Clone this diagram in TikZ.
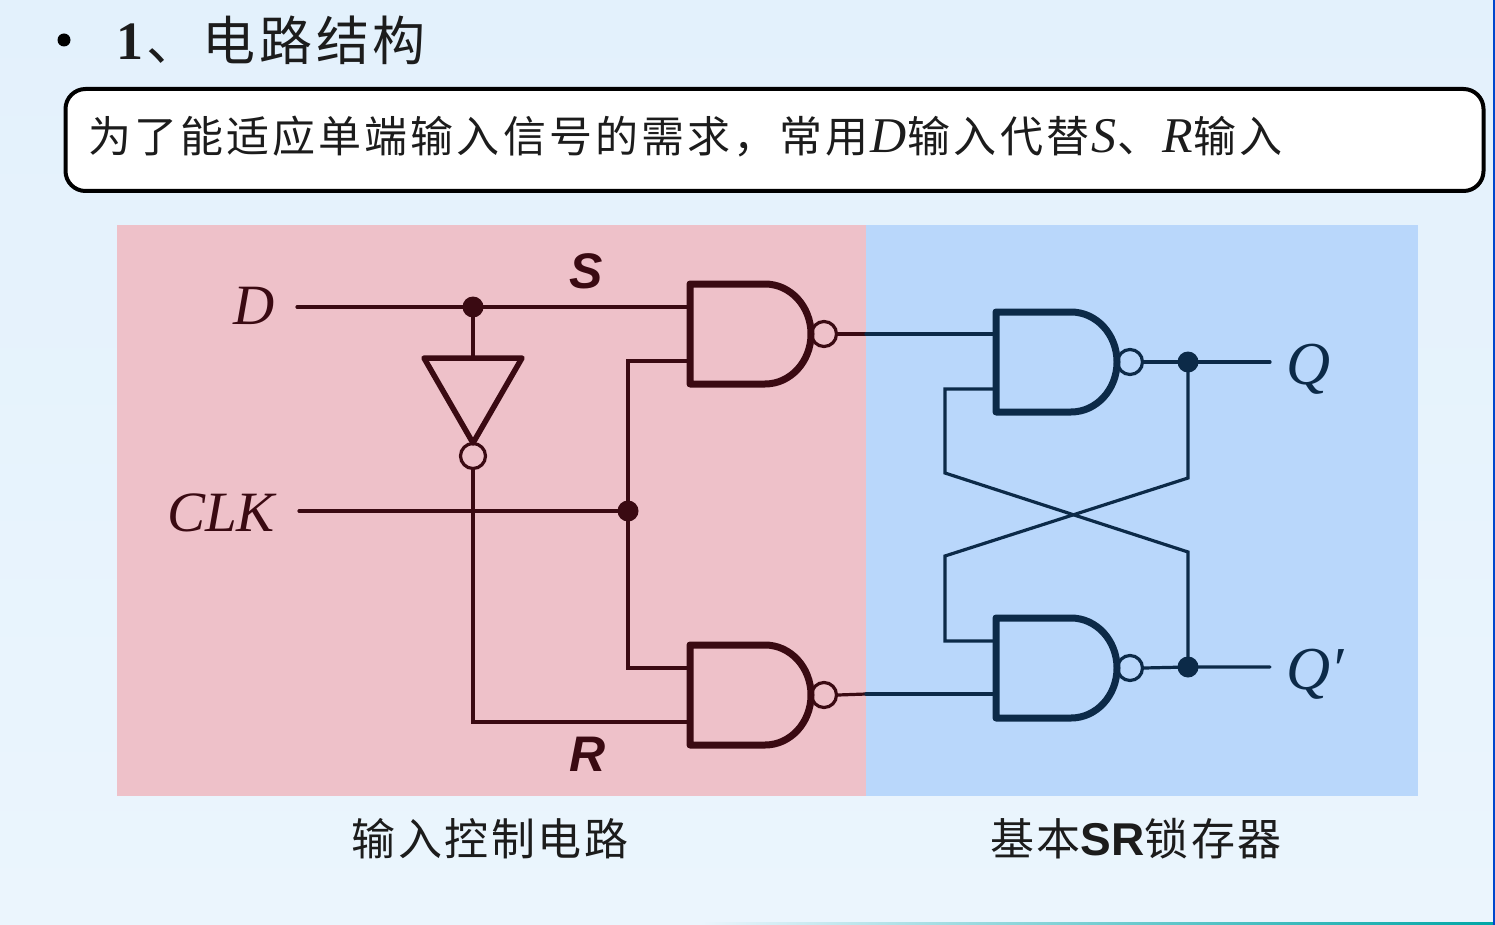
\documentclass[tikz,border=0pt]{standalone}
\usepackage{fontspec}
\setmainfont{Liberation Serif}
\newfontfamily\cjk{Noto Sans CJK SC}
\newfontfamily\cjkbody[LetterSpace=7.2]{Noto Sans CJK SC}
\newfontfamily\cjktitle[LetterSpace=7]{Noto Sans CJK SC}
\newfontfamily\cjkcap[LetterSpace=6]{Noto Sans CJK SC}
\newfontfamily\hei{Liberation Sans}
\newcommand{\latinit}[1]{{\fontsize{50}{50}\selectfont\rmfamily\itshape\kern2pt #1\kern1pt}}
\definecolor{bgtop}{HTML}{E3F1FC}
\definecolor{bgbot}{HTML}{EBF5FD}
\definecolor{redpane}{HTML}{EEC1C9}
\definecolor{bluepane}{HTML}{B9D7FB}
\definecolor{maroon}{HTML}{3A0A12}
\definecolor{navy}{HTML}{0C2A48}
\definecolor{ink}{HTML}{1C1C1C}
\tikzset{
  wire/.style={line width=3.2pt,line cap=round,line join=miter},
  gatebody/.style={line width=7pt,line join=round,line cap=round},
  invbody/.style={line width=5.5pt,line join=round,line cap=round},
  bubble/.style={circle,draw,line width=3.2pt,minimum size=25pt,inner sep=0pt},
  jdot/.style={circle,minimum size=21pt,inner sep=0pt},
  lbl/.style={inner sep=0pt,anchor=base},
  siglbl/.style={lbl,font=\fontsize{57}{57}\selectfont\itshape},
  qlbl/.style={lbl,font=\fontsize{61}{61}\selectfont\itshape},
  boldlbl/.style={lbl,font=\fontsize{50}{50}\selectfont\hei\bfseries\itshape},
  cjklbl/.style={lbl,font=\fontsize{44}{44}\selectfont\cjkcap,text=ink},
}
% \nandg{name}{x left}{y top}{colour}
\newcommand{\nandg}[4]{%
  \draw[gatebody,draw=#4] (#2,#3) -- ++(75,0) arc[start angle=-90,end angle=90,x radius=46,y radius=50] -- (#2,#3+100) -- cycle;
  \node[bubble,draw=#4] (#1-b) at (#2+134,#3+50) {};
  \coordinate (#1-a) at (#2,#3+23);
  \coordinate (#1-c) at (#2,#3+77);
}
\begin{document}
\begin{tikzpicture}[x=1pt,y=-1pt]
\useasboundingbox (0,0) rectangle (1495,925);
\fill[top color=bgtop,bottom color=bgbot] (0,0) rectangle (1495,925);
\fill[left color=bgbot,right color=teal!70!cyan] (700,922) rectangle (1495,925);
\fill[blue!65!cyan!80!black] (1493,0) rectangle (1495,925);
% title
\node[circle,fill=black,minimum size=13pt,inner sep=0pt] (bullet) at (64,40) {};
\node[lbl,font=\fontsize{54}{54}\selectfont\bfseries,text=ink] (one) at (130,60) {1};
\node[lbl,anchor=base west,font=\fontsize{53}{53}\selectfont\cjktitle,text=ink] (title) at (146,61) {、电路结构};
% note box
\node[draw=black,fill=white,line width=4pt,rounded corners=20pt,minimum width=1418pt,minimum height=102pt,inner sep=0pt] (note) at (774.5,140) {};
\node[lbl,anchor=base west,font=\fontsize{43}{43}\selectfont\cjkbody,text=ink] (notetext) at (88,153)
 {为了能适应单端输入信号的需求，常用\latinit{D}输入代替\latinit{S}、\latinit{R}输入};
% panes
\fill[redpane] (117,225) rectangle (866,796);
\fill[bluepane] (866,225) rectangle (1418,796);
% gates
\nandg{ga}{690}{284}{maroon}
\nandg{gb}{690}{645}{maroon}
\nandg{gc}{996}{312}{navy}
\nandg{gd}{996}{618}{navy}
% inverter
\draw[invbody,draw=maroon] (424,358) -- (522,358) -- (473,443) -- cycle;
\node[bubble,draw=maroon] (inv) at (473,456) {};
% junctions and ends
\node[jdot,fill=maroon] (jd) at (473,307) {};
\node[jdot,fill=maroon] (jc) at (628,511) {};
\node[jdot,fill=navy] (jq) at (1188,362) {};
\node[jdot,fill=navy] (jn) at (1188,667) {};
\coordinate (dend) at (297,307);
\coordinate (cend) at (299,511);
\coordinate (qend) at (1270,362);
\coordinate (nend) at (1270,667);
\coordinate (sa) at (866,334);
\coordinate (sb) at (866,694);
% wires, left pane
\draw[wire,draw=maroon] (dend) -- (jd.center) -- (ga-a);
\draw[wire,draw=maroon] (jd.center) -- (473,358);
\draw[wire,draw=maroon] (cend) -- (jc.center);
\draw[wire,draw=maroon] (ga-c) -| (jc.center);
\draw[wire,draw=maroon] (gb-a) -| (jc.center);
\draw[wire,draw=maroon] (inv.south) |- (gb-c);
\draw[wire,draw=maroon] (ga-b.east) -- (sa);
\draw[wire,draw=maroon] (gb-b.east) -- (sb);
% wires, right pane
\coordinate (gca) at (996,334);
\coordinate (gdb) at (996,694);
\draw[wire,draw=navy] (sa) -- (gca);
\draw[wire,draw=navy] (sb) -- (gdb);
\draw[wire,draw=navy] (gc-b.east) -- (jq.center) -- (qend);
\draw[wire,draw=navy] (gd-b.east) -- (jn.center) -- (nend);
\draw[wire,draw=navy] (gc-c) -- (945,389) -- (945,473) -- (1188,552) -- (jn.center);
\draw[wire,draw=navy] (gd-a) -- (945,641) -- (945,556) -- (1188,478) -- (jq.center);
% labels
\node[siglbl,text=maroon] (ld) at (254,324) {D};
\node[siglbl,text=maroon] (lclk) at (221,531) {CLK};
\node[qlbl,text=navy] (lq) at (1309,384) {Q};
\node[qlbl,text=navy] (lqp) at (1315,689) {Q′};
\node[boldlbl,text=maroon] (ls) at (586,288) {S};
\node[boldlbl,text=maroon] (lr) at (588,771) {R};
\node[cjklbl] (capl) at (490,855) {输入控制电路};
\node[cjklbl] (capr) at (1136,855) {基本{\fontsize{46}{46}\selectfont\hei\bfseries SR}锁存器};
\end{tikzpicture}
\end{document}
